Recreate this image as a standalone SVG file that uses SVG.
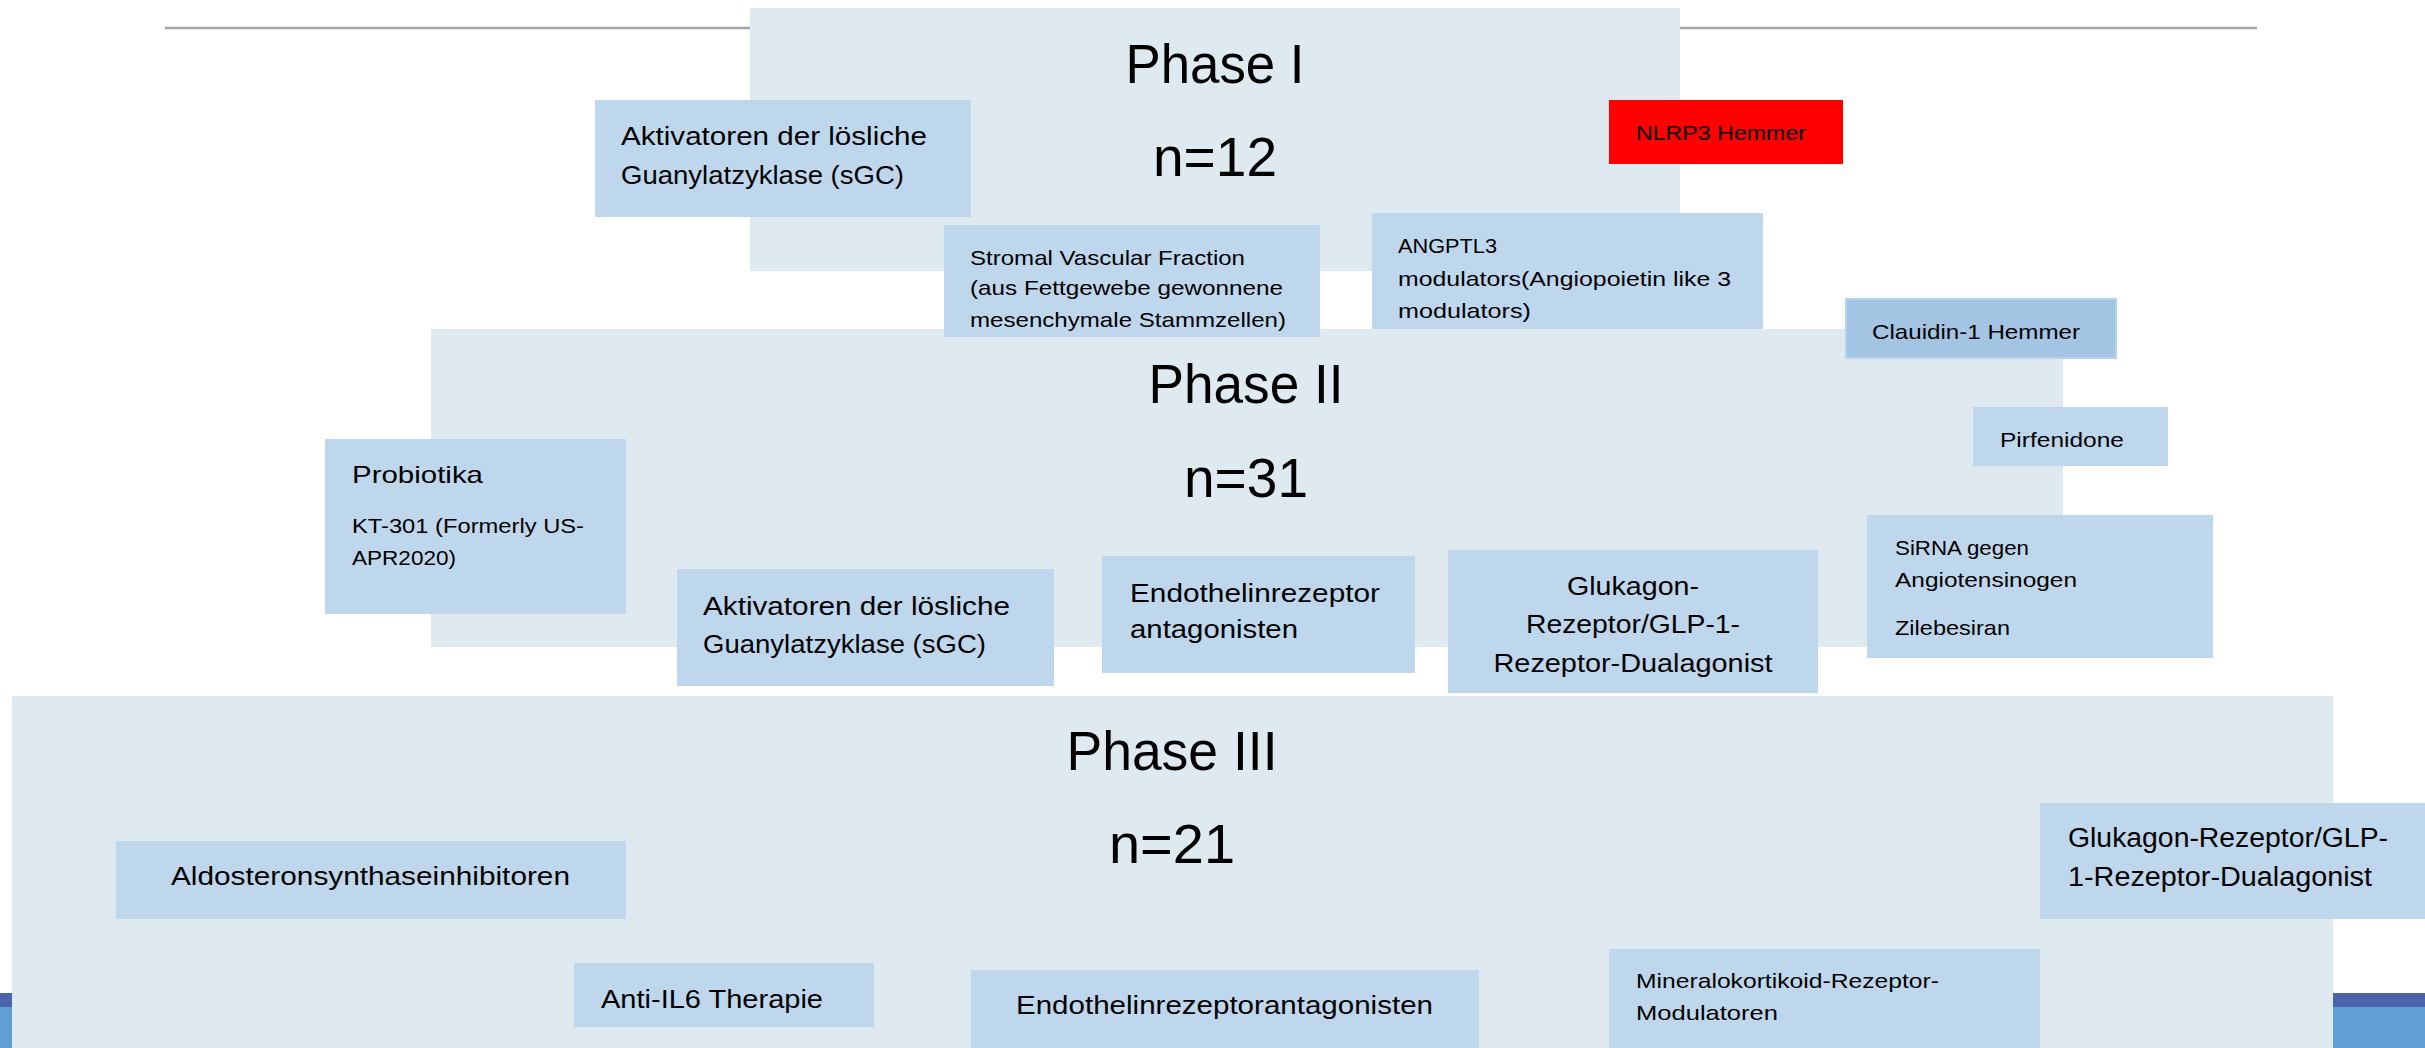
<svg xmlns="http://www.w3.org/2000/svg" width="2425" height="1048" viewBox="0 0 2425 1048">
<style>
  text { font-family: "Liberation Sans", Arial, sans-serif; fill: #000; }
  .phase { fill: #DEEAF0; }
  .node { fill: #BFD7EC; }
  .red { fill: #FF0000; }
  .dark { fill: #A3C4E3; stroke: #B7D2EB; stroke-width: 2; }
  .h { font-size: 56px; text-anchor: middle; }
  .l { font-size: 25px; }
  .m { font-size: 21px; }
</style>
<rect x="0" y="0" width="2425" height="1048" fill="#FFFFFF"/>
<g id="decor">
  <line x1="165" y1="28" x2="2257" y2="28" stroke="#A6A6A6" stroke-width="2.5"/>
  <rect x="0" y="993" width="2425" height="14" fill="#4A65AE"/>
  <rect x="0" y="1007" width="2425" height="41" fill="#619ED3"/>
</g>
<g id="phase1">
  <rect class="phase" x="750" y="8" width="930" height="263"/>
  <text class="h" x="1215" y="83" textLength="179" lengthAdjust="spacingAndGlyphs">Phase I</text>
  <text class="h" x="1215" y="176" textLength="124" lengthAdjust="spacingAndGlyphs">n=12</text>
</g>
<g id="phase2">
  <rect class="phase" x="431" y="329" width="1632" height="318"/>
  <text class="h" x="1246" y="403" textLength="195" lengthAdjust="spacingAndGlyphs">Phase II</text>
  <text class="h" x="1246" y="497" textLength="124" lengthAdjust="spacingAndGlyphs">n=31</text>
</g>
<g id="phase3">
  <rect class="phase" x="12" y="696" width="2321" height="352"/>
  <text class="h" x="1172" y="770" textLength="211" lengthAdjust="spacingAndGlyphs">Phase III</text>
  <text class="h" x="1172" y="863" textLength="126" lengthAdjust="spacingAndGlyphs">n=21</text>
</g>
<g id="connectors"></g>
<g id="sgc-phase1">
  <rect class="node" x="595" y="100" width="376" height="117"/>
  <text class="l" x="621" y="145" textLength="306" lengthAdjust="spacingAndGlyphs">Aktivatoren der lösliche</text>
  <text class="l" x="621" y="184" textLength="283" lengthAdjust="spacingAndGlyphs">Guanylatzyklase (sGC)</text>
</g>
<g id="nlrp3">
  <rect class="red" x="1609" y="100" width="234" height="64"/>
  <text class="m" x="1636" y="140" font-size="22" textLength="170" lengthAdjust="spacingAndGlyphs">NLRP3 Hemmer</text>
</g>
<g id="stromal">
  <rect class="node" x="944" y="225" width="376" height="112"/>
  <text class="m" x="970" y="265" textLength="275" lengthAdjust="spacingAndGlyphs">Stromal Vascular Fraction</text>
  <text class="m" x="970" y="295" textLength="313" lengthAdjust="spacingAndGlyphs">(aus Fettgewebe gewonnene</text>
  <text class="m" x="970" y="327" textLength="316" lengthAdjust="spacingAndGlyphs">mesenchymale Stammzellen)</text>
</g>
<g id="angptl3">
  <rect class="node" x="1372" y="213" width="391" height="116"/>
  <text class="m" x="1398" y="253" textLength="99" lengthAdjust="spacingAndGlyphs">ANGPTL3</text>
  <text class="m" x="1398" y="286" textLength="333" lengthAdjust="spacingAndGlyphs">modulators(Angiopoietin like 3</text>
  <text class="m" x="1398" y="318" textLength="133" lengthAdjust="spacingAndGlyphs">modulators)</text>
</g>
<g id="clauidin">
  <rect class="dark" x="1846" y="299" width="270" height="59"/>
  <text class="m" x="1872" y="339" font-size="22" textLength="208" lengthAdjust="spacingAndGlyphs">Clauidin-1 Hemmer</text>
</g>
<g id="probiotika">
  <rect class="node" x="325" y="439" width="301" height="175"/>
  <text x="352" y="483" font-size="24" textLength="131" lengthAdjust="spacingAndGlyphs">Probiotika</text>
  <text class="m" x="352" y="533" textLength="232" lengthAdjust="spacingAndGlyphs">KT-301 (Formerly US-</text>
  <text class="m" x="352" y="565" textLength="104" lengthAdjust="spacingAndGlyphs">APR2020)</text>
</g>
<g id="sgc-phase2">
  <rect class="node" x="677" y="569" width="377" height="117"/>
  <text class="l" x="703" y="615" textLength="307" lengthAdjust="spacingAndGlyphs">Aktivatoren der lösliche</text>
  <text class="l" x="703" y="653" textLength="283" lengthAdjust="spacingAndGlyphs">Guanylatzyklase (sGC)</text>
</g>
<g id="endothelin-phase2">
  <rect class="node" x="1102" y="556" width="313" height="117"/>
  <text class="l" x="1130" y="602" textLength="250" lengthAdjust="spacingAndGlyphs">Endothelinrezeptor</text>
  <text class="l" x="1130" y="638" textLength="168" lengthAdjust="spacingAndGlyphs">antagonisten</text>
</g>
<g id="glukagon-phase2">
  <rect class="node" x="1448" y="550" width="370" height="143"/>
  <text class="l" x="1633" y="595" text-anchor="middle" textLength="132" lengthAdjust="spacingAndGlyphs">Glukagon-</text>
  <text class="l" x="1633" y="633" text-anchor="middle" textLength="214" lengthAdjust="spacingAndGlyphs">Rezeptor/GLP-1-</text>
  <text class="l" x="1633" y="672" text-anchor="middle" textLength="279" lengthAdjust="spacingAndGlyphs">Rezeptor-Dualagonist</text>
</g>
<g id="pirfenidone">
  <rect class="node" x="1973" y="407" width="195" height="59"/>
  <text class="m" x="2000" y="447" textLength="124" lengthAdjust="spacingAndGlyphs">Pirfenidone</text>
</g>
<g id="sirna">
  <rect class="node" x="1867" y="515" width="346" height="143"/>
  <text class="m" x="1895" y="555" textLength="134" lengthAdjust="spacingAndGlyphs">SiRNA gegen</text>
  <text class="m" x="1895" y="587" textLength="182" lengthAdjust="spacingAndGlyphs">Angiotensinogen</text>
  <text class="m" x="1895" y="635" textLength="115" lengthAdjust="spacingAndGlyphs">Zilebesiran</text>
</g>
<g id="aldosteron">
  <rect class="node" x="116" y="841" width="510" height="78"/>
  <text class="l" x="171" y="885" textLength="399" lengthAdjust="spacingAndGlyphs">Aldosteronsynthaseinhibitoren</text>
</g>
<g id="glukagon-phase3">
  <rect class="node" x="2040" y="803" width="385" height="116"/>
  <text x="2068" y="847" font-size="27" textLength="320" lengthAdjust="spacingAndGlyphs">Glukagon-Rezeptor/GLP-</text>
  <text x="2068" y="886" font-size="27" textLength="304" lengthAdjust="spacingAndGlyphs">1-Rezeptor-Dualagonist</text>
</g>
<g id="anti-il6">
  <rect class="node" x="574" y="963" width="300" height="64"/>
  <text class="l" x="601" y="1008" textLength="222" lengthAdjust="spacingAndGlyphs">Anti-IL6 Therapie</text>
</g>
<g id="endothelin-phase3">
  <rect class="node" x="971" y="970" width="508" height="78"/>
  <text class="l" x="1016" y="1014" textLength="417" lengthAdjust="spacingAndGlyphs">Endothelinrezeptorantagonisten</text>
</g>
<g id="mineralokortikoid">
  <rect class="node" x="1609" y="949" width="431" height="99"/>
  <text class="m" x="1636" y="988" textLength="303" lengthAdjust="spacingAndGlyphs">Mineralokortikoid-Rezeptor-</text>
  <text class="m" x="1636" y="1020" textLength="142" lengthAdjust="spacingAndGlyphs">Modulatoren</text>
</g>
</svg>
